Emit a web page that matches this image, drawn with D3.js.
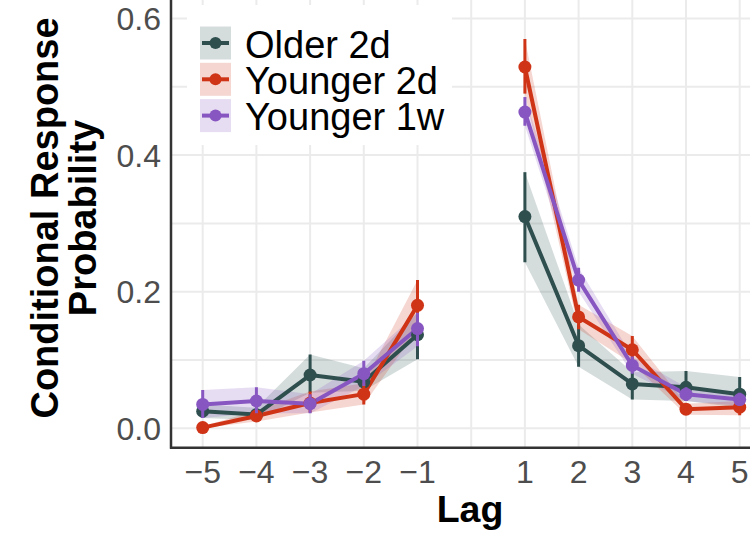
<!DOCTYPE html>
<html lang="en">
<head>
    <meta charset="UTF-8">
    <title>Conditional response probability by lag</title>
    <script src="https://d3js.org/d3.v7.min.js"></script>
    <style>
        body {
            margin: 0;
            background-color: #fff;
            font-family: "Liberation Sans", Arial, Helvetica, sans-serif;
        }
        .grid line {
            stroke: #ebebeb;
            stroke-width: 2px;
        }
        .tick-label {
            font-size: 32px;
            fill: #4d4d4d;
        }
        .title {
            font-size: 37.5px;
            font-weight: bold;
            fill: #000;
        }
        .legend text {
            font-size: 38px;
            fill: #000;
        }
    </style>
</head>
<body>
    <svg id="chart" width="750" height="533"></svg>
    <script>
        // lags shown on the x axis (0 is left out)
        var lags = [-5, -4, -3, -2, -1, 1, 2, 3, 4, 5];
        var xTicks = [-5, -4, -3, -2, -1, 1, 2, 3, 4, 5];
        var xGrid = [-5, -4, -3, -2, -1, 0, 1, 2, 3, 4, 5];
        var yTicks = [0, 0.2, 0.4, 0.6];
        var yGrid = [0, 0.1, 0.2, 0.3, 0.4, 0.5, 0.6];

        var groups = ["Older 2d", "Younger 2d", "Younger 1w"];
        var colors = ["#2f4f4f", "#cf3417", "#8856c1"];

        // mean and interval bounds, one entry per lag
        var older2d = [0.025, 0.020, 0.078, 0.068, 0.137, 0.310, 0.121, 0.065, 0.060, 0.050];
        var older2dLo = [0.015, 0.012, 0.052, 0.055, 0.101, 0.243, 0.090, 0.042, 0.040, 0.030];
        var older2dHi = [0.035, 0.030, 0.108, 0.088, 0.170, 0.375, 0.152, 0.082, 0.084, 0.075];

        var younger2d = [0.001, 0.018, 0.037, 0.050, 0.180, 0.529, 0.163, 0.115, 0.028, 0.031];
        var younger2dLo = [0.000, 0.010, 0.023, 0.035, 0.145, 0.490, 0.145, 0.095, 0.020, 0.019];
        var younger2dHi = [0.003, 0.026, 0.054, 0.066, 0.217, 0.570, 0.181, 0.135, 0.036, 0.040];

        var younger1w = [0.035, 0.040, 0.036, 0.080, 0.146, 0.463, 0.217, 0.092, 0.050, 0.042];
        var younger1wLo = [0.015, 0.022, 0.022, 0.062, 0.120, 0.443, 0.200, 0.080, 0.040, 0.033];
        var younger1wHi = [0.056, 0.060, 0.050, 0.099, 0.169, 0.485, 0.235, 0.105, 0.060, 0.052];

        var means = [older2d, younger2d, younger1w];
        var lows = [older2dLo, younger2dLo, younger1wLo];
        var highs = [older2dHi, younger2dHi, younger1wHi];

        var svg = d3.select("#chart");

        var panel = { left: 171, right: 750, top: 0, bottom: 447.7 };

        var x = d3.scaleLinear().domain([-5, 5]).range([202.7, 739.7]);
        var y = d3.scaleLinear().domain([0, 0.6]).range([428.3, 18.5]);

        svg.append("clipPath").attr("id", "clip")
            .append("rect")
            .attr("x", panel.left).attr("y", panel.top)
            .attr("width", panel.right - panel.left)
            .attr("height", panel.bottom - panel.top);

        // grid
        var grid = svg.append("g").attr("class", "grid").attr("clip-path", "url(#clip)");
        grid.selectAll(".gy").data(yGrid).enter().append("line")
            .attr("x1", panel.left).attr("x2", panel.right)
            .attr("y1", function (d) { return y(d); })
            .attr("y2", function (d) { return y(d); });
        grid.selectAll(".gx").data(xGrid).enter().append("line")
            .attr("y1", panel.top).attr("y2", panel.bottom)
            .attr("x1", function (d) { return x(d); })
            .attr("x2", function (d) { return x(d); });

        // build per-group rows, split into negative and positive lags
        var data = groups.map(function (g, gi) {
            var rows = lags.map(function (lag, i) {
                return { lag: lag, m: means[gi][i], lo: lows[gi][i], hi: highs[gi][i] };
            });
            return {
                name: g, color: colors[gi], rows: rows,
                parts: [rows.filter(function (r) { return r.lag < 0; }),
                        rows.filter(function (r) { return r.lag > 0; })]
            };
        });

        var plot = svg.append("g").attr("clip-path", "url(#clip)");

        var area = d3.area()
            .x(function (d) { return x(d.lag); })
            .y0(function (d) { return y(d.lo); })
            .y1(function (d) { return y(d.hi); });
        var line = d3.line()
            .x(function (d) { return x(d.lag); })
            .y(function (d) { return y(d.m); });

        // ribbons
        data.forEach(function (g) {
            g.parts.forEach(function (p) {
                plot.append("path").attr("d", area(p))
                    .attr("fill", g.color).attr("fill-opacity", 0.2);
            });
        });
        // lines
        data.forEach(function (g) {
            g.parts.forEach(function (p) {
                plot.append("path").attr("d", line(p))
                    .attr("fill", "none").attr("stroke", g.color)
                    .attr("stroke-width", 4).attr("stroke-linejoin", "round");
            });
        });
        // point ranges
        data.forEach(function (g) {
            var pr = plot.append("g");
            pr.selectAll("line").data(g.rows).enter().append("line")
                .attr("x1", function (d) { return x(d.lag); })
                .attr("x2", function (d) { return x(d.lag); })
                .attr("y1", function (d) { return y(d.lo); })
                .attr("y2", function (d) { return y(d.hi); })
                .attr("stroke", g.color).attr("stroke-width", 3);
            pr.selectAll("circle").data(g.rows).enter().append("circle")
                .attr("cx", function (d) { return x(d.lag); })
                .attr("cy", function (d) { return y(d.m); })
                .attr("r", 6.5)
                .attr("fill", g.color);
        });

        // axis lines
        svg.append("line")
            .attr("x1", panel.left).attr("x2", panel.left)
            .attr("y1", panel.top).attr("y2", panel.bottom + 1)
            .attr("stroke", "#333").attr("stroke-width", 2.5);
        svg.append("line")
            .attr("x1", panel.left - 1).attr("x2", panel.right)
            .attr("y1", panel.bottom).attr("y2", panel.bottom)
            .attr("stroke", "#333").attr("stroke-width", 2.5);

        // tick labels
        svg.selectAll(".yl").data(yTicks).enter().append("text")
            .attr("class", "tick-label")
            .attr("x", 161)
            .attr("y", function (d) { return y(d); })
            .attr("dy", "0.36em")
            .attr("text-anchor", "end")
            .text(d3.format(".1f"));
        svg.selectAll(".xl").data(xTicks).enter().append("text")
            .attr("class", "tick-label")
            .attr("x", function (d) { return x(d); })
            .attr("y", 483)
            .attr("text-anchor", "middle")
            .text(function (d) { return d < 0 ? "\u2212" + (-d) : d; });

        // axis titles
        svg.append("text").attr("class", "title")
            .attr("x", 470).attr("y", 522)
            .attr("text-anchor", "middle").text("Lag");
        var yt = svg.append("text").attr("class", "title")
            .attr("transform", "translate(58,218) rotate(-90)")
            .attr("text-anchor", "middle")
            .style("font-size", "38px");
        yt.append("tspan").attr("x", 0).attr("y", 0).text("Conditional Response");
        yt.append("tspan").attr("x", 0).attr("y", 38).text("Probability");

        // legend
        var legend = svg.append("g").attr("class", "legend");
        legend.append("rect")
            .attr("x", 187).attr("y", 5).attr("width", 265).attr("height", 140)
            .attr("fill", "#fff");
        var item = legend.selectAll(".item").data(data).enter().append("g")
            .attr("transform", function (d, i) { return "translate(200," + (26.5 + i * 36.3) + ")"; });
        item.append("rect")
            .attr("width", 31).attr("height", 33)
            .attr("fill", function (d) { return d.color; }).attr("fill-opacity", 0.2);
        item.append("line")
            .attr("x1", 2).attr("x2", 29).attr("y1", 16.5).attr("y2", 16.5)
            .attr("stroke", function (d) { return d.color; }).attr("stroke-width", 4);
        item.append("circle")
            .attr("cx", 15.5).attr("cy", 16.5).attr("r", 6)
            .attr("fill", function (d) { return d.color; });
        item.append("text")
            .attr("x", 45).attr("y", 31)
            .text(function (d) { return d.name; });
    </script>
</body>
</html>
